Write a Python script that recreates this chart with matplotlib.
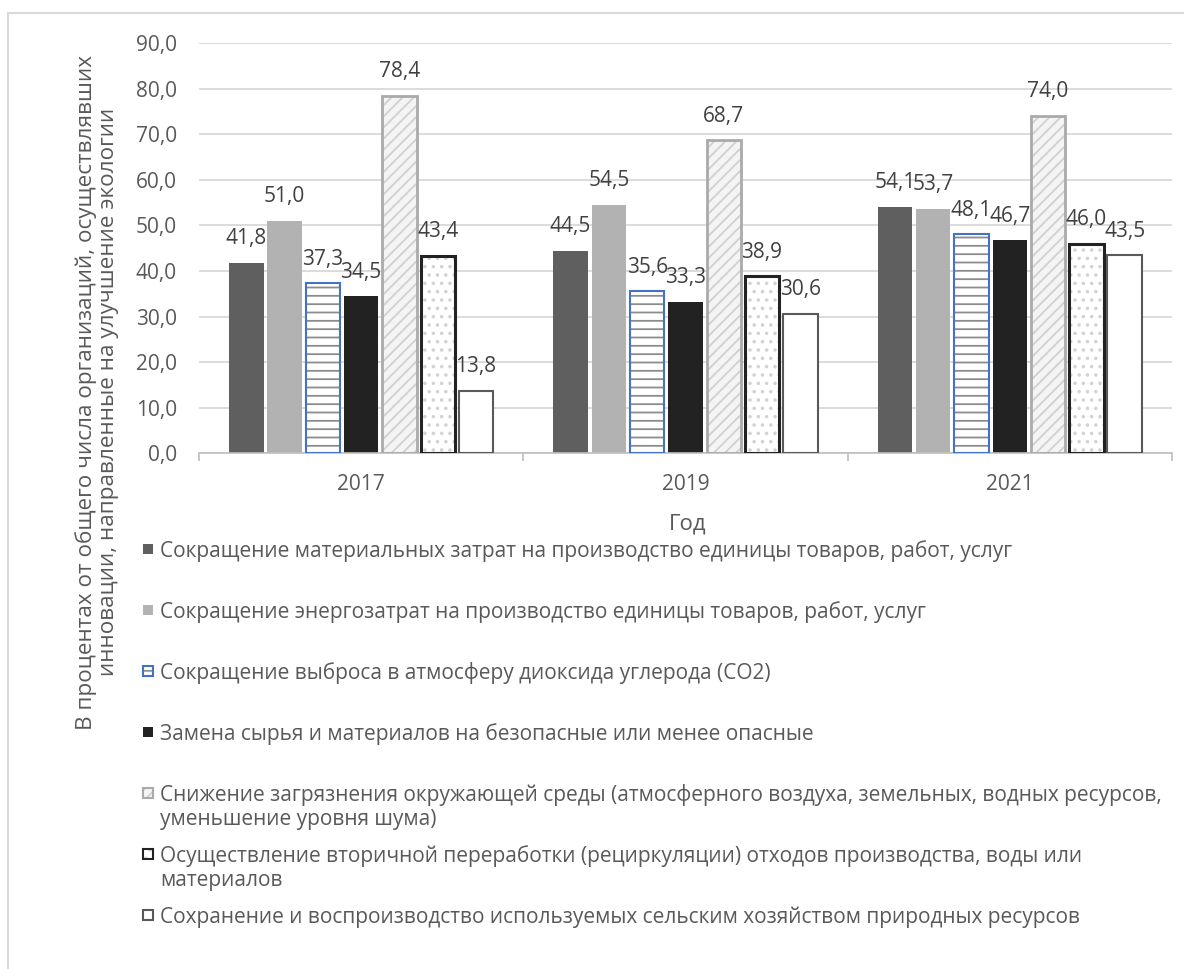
import matplotlib
matplotlib.use("Agg")
import matplotlib.pyplot as plt
from matplotlib.patches import Rectangle
from matplotlib.ticker import FuncFormatter
import numpy as np

plt.rcParams['font.family'] = ['Open Sans', 'DejaVu Sans']
plt.rcParams['hatch.linewidth'] = 1.3

years = ['2017', '2019', '2021']

material = [41.8, 44.5, 54.1]
energy = [51.0, 54.5, 53.7]
co2 = [37.3, 35.6, 48.1]
raw = [34.5, 33.3, 46.7]
pollution = [78.4, 68.7, 74.0]
recycling = [43.4, 38.9, 46.0]
agro = [13.8, 30.6, 43.5]

labels = [
    "Сокращение материальных затрат на производство единицы товаров, работ, услуг",
    "Сокращение энергозатрат на производство единицы товаров, работ, услуг",
    "Сокращение выброса в атмосферу диоксида углерода (СО2)",
    "Замена сырья и материалов на безопасные или менее опасные",
    "Снижение загрязнения окружающей среды (атмосферного воздуха, земельных, водных ресурсов,\nуменьшение уровня шума)",
    "Осуществление вторичной переработки (рециркуляции) отходов производства, воды или\nматериалов",
    "Сохранение и воспроизводство используемых сельским хозяйством природных ресурсов",
]

series = [material, energy, co2, raw, pollution, recycling, agro]

# (face, hatch, hatch colour, outline colour, outline width)
styles = [
    ('#5f5f5f', None, None, None, 0),
    ('#b2b2b2', None, None, None, 0),
    ('white', '--', '#8c8c8c', '#4472c4', 1.5),
    ('#222222', None, None, None, 0),
    ('#f4f4f4', '///', '#d0d0d0', '#aaaaaa', 2.0),
    ('white', '..', '#d2d2d2', '#222222', 2.2),
    ('white', None, None, '#595959', 1.5),
]

W, H = 1184, 969
fig = plt.figure(figsize=(W / 100, H / 100), dpi=100)
ax = fig.add_axes([199 / W, 1 - 453.5 / H, (1172 - 199) / W, (453.5 - 43) / H])

text_col = '#595959'
fs = 15
x = np.arange(len(years))
step = 0.118
bw = 0.106

for j, vals in enumerate(series):
    face, hatch, hcol, ecol, lw = styles[j]
    pos = x + (j - 3) * step
    if hatch:
        ax.bar(pos, vals, bw, color=face, hatch=hatch, edgecolor=hcol, linewidth=0, zorder=2)
    else:
        ax.bar(pos, vals, bw, color=face, linewidth=0, zorder=2)
    if ecol:
        ax.bar(pos, vals, bw, fill=False, edgecolor=ecol, linewidth=lw, zorder=3)
    for px, v in zip(pos, vals):
        ax.annotate(f"{v:.1f}".replace('.', ','), (px, v), xytext=(0, 24),
                    textcoords='offset pixels', ha='center', va='center',
                    fontsize=fs, color='#404040')

ax.set_xlim(-0.5, 2.5)
ax.set_ylim(0, 90)
ax.set_yticks(np.arange(0, 91, 10))
ax.yaxis.set_major_formatter(FuncFormatter(lambda v, p: f"{v:.1f}".replace('.', ',')))
ax.tick_params(axis='y', length=0, pad=16, labelsize=fs, labelcolor=text_col)
ax.grid(axis='y', color='#d9d9d9', linewidth=1.3)
ax.set_axisbelow(True)

ax.set_xticks([-0.5, 0.5, 1.5, 2.5])
ax.set_xticklabels([])
ax.set_xticks(x, minor=True)
ax.set_xticklabels(years, minor=True)
ax.tick_params(axis='x', which='major', length=6, color='#bfbfbf', width=1.2)
ax.tick_params(axis='x', which='minor', length=0, pad=15, labelsize=fs, labelcolor=text_col)

for s in ['left', 'right', 'top']:
    ax.spines[s].set_visible(False)
ax.spines['bottom'].set_color('#bfbfbf')
ax.spines['bottom'].set_linewidth(1.2)

fig.text(688 / W, 1 - 524 / H, "Год", ha='center', va='center', fontsize=16, color=text_col)
fig.text(97 / W, 1 - 392 / H,
         "В процентах от общего числа организаций, осуществлявших\nинновации, направленные на улучшение экологии",
         rotation=90, ha='center', va='center', multialignment='center',
         fontsize=16.2, color=text_col, linespacing=1.1)

# legend drawn by hand, Excel-like fixed slots
for k, lab in enumerate(labels):
    base = 557 + 61 * k
    face, hatch, hcol, ecol, lw = styles[k]
    box = (143 / W, 1 - (base - 3) / H)
    size = (10 / W, 10 / H)
    if hatch:
        fig.add_artist(Rectangle(box, *size, facecolor=face, hatch=hatch, edgecolor=hcol,
                                 linewidth=0, transform=fig.transFigure))
    else:
        fig.add_artist(Rectangle(box, *size, facecolor=face, linewidth=0, transform=fig.transFigure))
    if ecol:
        fig.add_artist(Rectangle(box, *size, fill=False, edgecolor=ecol, linewidth=1.5,
                                 transform=fig.transFigure))
    for i, line in enumerate(lab.split('\n')):
        fig.text(160 / W, 1 - (base + 24 * i) / H, line, ha='left', va='baseline',
                 fontsize=fs, color=text_col)

fig.add_artist(Rectangle((8 / W, -0.1), 1.2, 1.1 - 13 / H, fill=False, edgecolor='#d9d9d9',
                         linewidth=1.5, transform=fig.transFigure))

fig.savefig("out.png", dpi=100)
